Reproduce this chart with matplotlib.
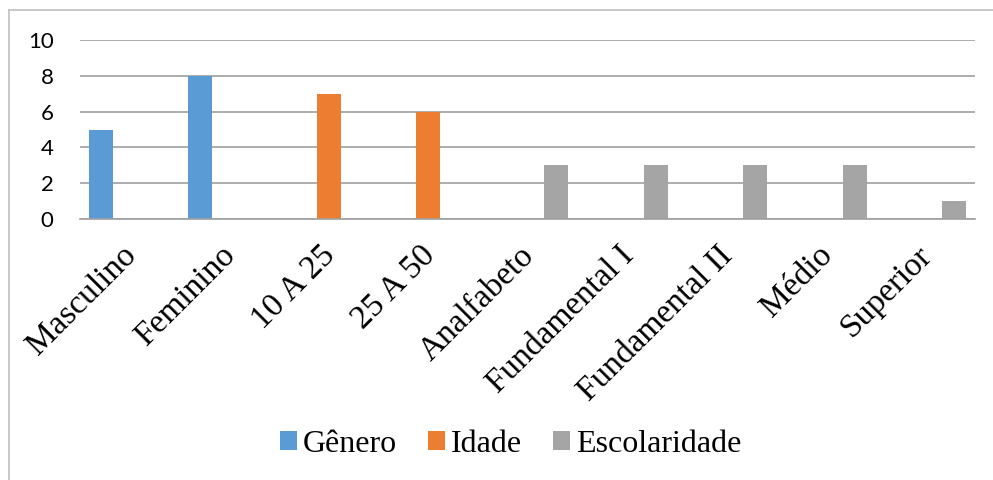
import matplotlib
matplotlib.use("Agg")
import matplotlib.pyplot as plt
import numpy as np
from matplotlib.patches import Patch
from matplotlib.lines import Line2D

categories = ["Masculino", "Feminino", "10 A 25", "25 A 50", "Analfabeto",
              "Fundamental I", "Fundamental II", "Médio", "Superior"]
series_names = ["Gênero", "Idade", "Escolaridade"]
genero = [5, 8, 0, 0, 0, 0, 0, 0, 0]
idade = [0, 0, 7, 6, 0, 0, 0, 0, 0]
escolaridade = [0, 0, 0, 0, 3, 3, 3, 3, 1]
yticks = [0, 2, 4, 6, 8, 10]

plt.rcParams["font.family"] = "serif"
plt.rcParams["font.serif"] = ["Liberation Serif", "DejaVu Serif"]

colors = ["#5B9BD5", "#ED7D31", "#A5A5A5"]

fig = plt.figure(figsize=(9.93, 4.8), dpi=100)
ax = fig.add_axes([80/993, 261/480, 895/993, 179/480])

x = np.arange(len(categories))
offsets = [-0.29, 0.0, 0.29]
width = 0.24
for vals, off, col, name in zip([genero, idade, escolaridade], offsets, colors, series_names):
    v = np.array(vals, dtype=float)
    mask = v > 0
    ax.bar(x[mask] + off, v[mask], width=width, color=col, label=name, zorder=3)

ax.set_xlim(-0.5, len(categories) - 0.5)
ax.set_ylim(0, 10)
ax.set_yticks(yticks)
ax.set_yticklabels([str(t) for t in yticks], family="Lato", fontsize=16)
ax.yaxis.grid(True, color="#a0a0a0", linewidth=1.2, zorder=0)
ax.set_axisbelow(True)
for s in ["top", "right", "left"]:
    ax.spines[s].set_visible(False)
ax.spines["bottom"].set_color("#a0a0a0")
ax.spines["bottom"].set_linewidth(1.2)
ax.spines["bottom"].set_zorder(4)
ax.tick_params(axis="y", length=0, pad=19)
ax.tick_params(axis="x", length=0, pad=23)
ax.set_xticks(x + 0.02)
ax.set_xticklabels(categories, rotation=45, ha="right", va="center",
                   rotation_mode="anchor", fontsize=24)

handles = [Patch(facecolor=c, edgecolor="none") for c in colors]
fig.legend(handles, series_names, loc="center", bbox_to_anchor=(511/993, 1 - 444/480),
           ncol=3, frameon=False, prop={"size": 23},
           handlelength=0.53, handleheight=0.53, handletextpad=0.19, columnspacing=0.97)

# outer frame (left and top visible)
fig.add_artist(Line2D([9/993, 9/993], [0, 1 - 10/480], color="#bfbfbf", linewidth=1.2,
                      transform=fig.transFigure))
fig.add_artist(Line2D([9/993, 1], [1 - 10/480, 1 - 10/480], color="#bfbfbf", linewidth=1.2,
                      transform=fig.transFigure))

fig.savefig("out.png", dpi=100)
